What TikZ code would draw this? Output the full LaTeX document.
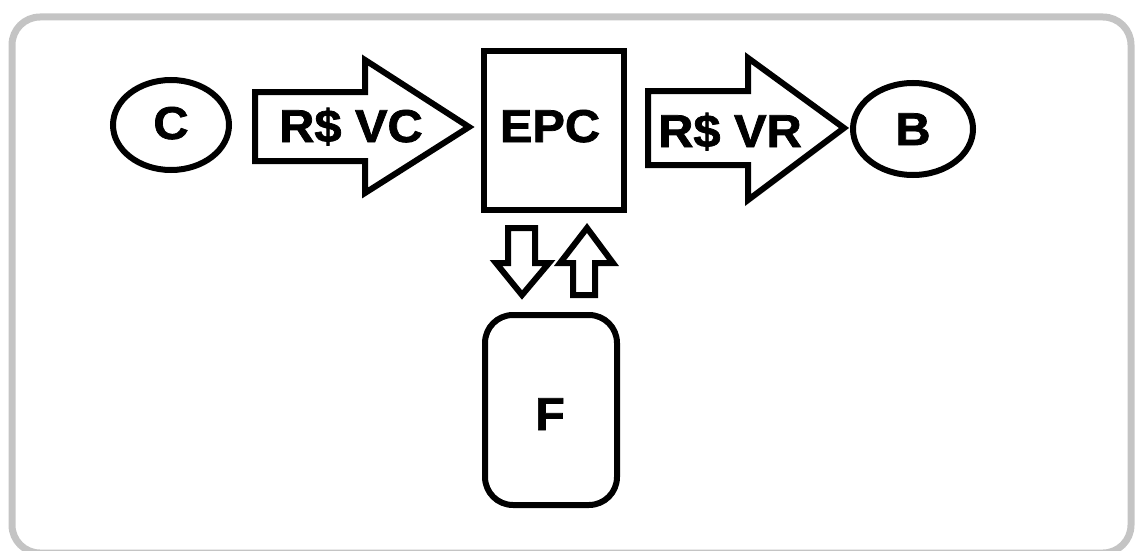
\documentclass[tikz,border=0pt]{standalone}
\usepackage{fontspec}
\setmainfont{Liberation Sans}
\newfontfamily\lblfont{Liberation Sans}[FakeStretch=1.06,BoldFeatures={FakeBold=1.6}]
\usetikzlibrary{shapes.geometric}
\definecolor{framegray}{RGB}{196,196,196}
\begin{document}
\begin{tikzpicture}[x=1pt,y=-1pt,
  outline/.style={draw=black,line width=6pt},
  blockarrow/.style={outline,line join=miter,fill=white},
  lbl/.style={font=\lblfont\bfseries\fontsize{46}{50}\selectfont,inner sep=0pt,anchor=base},
]
\useasboundingbox (0,0) rectangle (1135,551);

% outer frame, cut by the page edge on the right and bottom
\begin{scope}
  \clip (0,0) rectangle (1135,551);
  \draw[line width=7pt,draw=framegray,rounded corners=28pt] (12,17) rectangle (1131,553);
\end{scope}

% parties
\node[outline,ellipse,minimum width=116pt,minimum height=90pt] (C) at (171,125) {};
\node[outline,ellipse,minimum width=120pt,minimum height=92pt] (B) at (913,129) {};
\node[outline,minimum width=140pt,minimum height=159pt] (EPC) at (554,130.5) {};
\node[outline,rounded corners=28pt,minimum width=132pt,minimum height=190pt] (F) at (551,410) {};

\node[lbl] (Ct) at (171,139) {C};
\node[lbl] (Bt) at (913,145) {B};
\node[lbl] (EPCt) at (550,142) {EPC};
\node[lbl] (Ft) at (550,430) {F};

% block arrow C -> EPC
\draw[blockarrow] (255,92) -- (365,92) -- (365,60) -- (469,127) -- (365,193) -- (365,161) -- (255,161) -- cycle;
\node[lbl] (vc) at (351,142) {R\$ VC};

% block arrow EPC -> B
\draw[blockarrow] (648,91) -- (748,91) -- (748,58) -- (844,128) -- (748,200) -- (748,165) -- (648,165) -- cycle;
\node[lbl] (vr) at (730,147) {R\$ VR};

% small arrows between EPC and F
\draw[blockarrow] (508,228) -- (535,228) -- (535,263) -- (549,263) -- (522,295) -- (496,263) -- (508,263) -- cycle;
\draw[blockarrow] (573,295) -- (595,295) -- (595,263) -- (613,263) -- (587,228) -- (560,263) -- (573,263) -- cycle;
\end{tikzpicture}
\end{document}
